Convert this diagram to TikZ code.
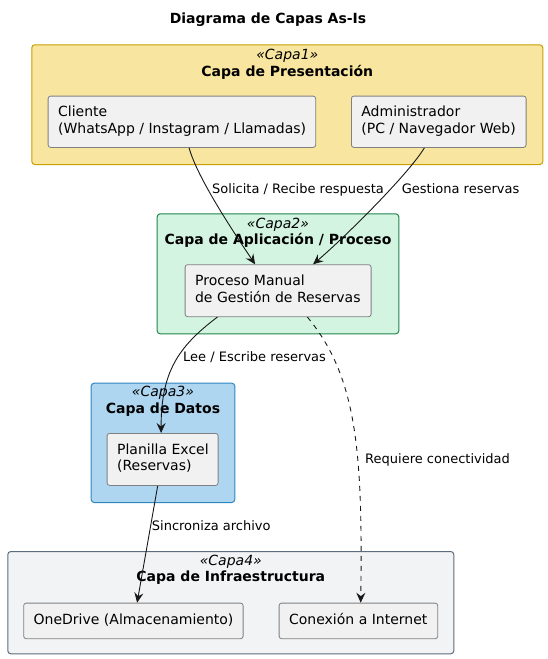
\documentclass[tikz,border=0pt]{standalone}
\usepackage{fontspec}
\setmainfont{DejaVu Sans}
\usetikzlibrary{arrows.meta}
\definecolor{cOneFill}{RGB}{248,229,160}
\definecolor{cOneDraw}{RGB}{200,160,0}
\definecolor{cTwoFill}{RGB}{212,244,226}
\definecolor{cTwoDraw}{RGB}{30,132,73}
\definecolor{cThreeFill}{RGB}{174,214,241}
\definecolor{cThreeDraw}{RGB}{46,134,193}
\definecolor{cFourFill}{RGB}{242,243,244}
\definecolor{cFourDraw}{RGB}{93,109,126}
\definecolor{boxFill}{RGB}{241,241,241}
\definecolor{boxDraw}{RGB}{128,128,128}
\definecolor{lineC}{RGB}{24,24,24}
\newcommand{\bxt}[2]{\makebox[#1][l]{\begin{tabular}{@{}l@{}}#2\end{tabular}}}
\tikzset{
  compbox/.style={draw=boxDraw, fill=boxFill, rounded corners=2.5pt, line width=0.8pt,
    inner xsep=10pt, inner ysep=0pt, anchor=north west,
    font=\fontsize{14}{16.5}\selectfont},
  layerframe/.style={rounded corners=3pt, line width=1pt, anchor=north west, inner sep=0pt},
  elabel/.style={font=\fontsize{13}{15}\selectfont, anchor=base west, inner sep=0pt},
  stereo/.style={font=\fontsize{14}{16}\selectfont\itshape, anchor=base, inner sep=0pt},
  ftitle/.style={font=\fontsize{14}{16}\selectfont\bfseries, anchor=base, inner sep=0pt},
  conn/.style={draw=lineC, line width=0.9pt, -{Stealth[length=10pt,width=9pt,inset=3.5pt]}},
  dconn/.style={conn, dash pattern=on 5pt off 5pt}
}
\begin{document}
\begin{tikzpicture}[x=1pt,y=-1pt]
\useasboundingbox (0,0) rectangle (547,659);
% title
\node[ftitle] (title) at (268,23) {Diagrama de Capas As-Is};
% frames
\node[layerframe, draw=cOneDraw, fill=cOneFill, minimum width=511pt, minimum height=119.7pt] (f1) at (31.3,44.3) {};
\node[layerframe, draw=cTwoDraw, fill=cTwoFill, minimum width=241.6pt, minimum height=120pt] (f2) at (156.7,213.3) {};
\node[layerframe, draw=cThreeDraw, fill=cThreeFill, minimum width=143.6pt, minimum height=119.3pt] (f3) at (90.7,382.7) {};
\node[layerframe, draw=cFourDraw, fill=cFourFill, minimum width=446pt, minimum height=102.3pt] (f4) at (7.3,551) {};
% frame labels
\node[stereo] (s1) at ([yshift=-14.7pt]f1.north) {«Capa1»};
\node[ftitle] (t1) at ([yshift=-31.7pt]f1.north) {Capa de Presentación};
\node[stereo] (s2) at ([yshift=-14.7pt]f2.north) {«Capa2»};
\node[ftitle] (t2) at ([yshift=-31.2pt]f2.north) {Capa de Aplicación / Proceso};
\node[stereo] (s3) at ([yshift=-14.2pt]f3.north) {«Capa3»};
\node[ftitle] (t3) at ([yshift=-30.7pt]f3.north) {Capa de Datos};
\node[stereo] (s4) at ([yshift=-14pt]f4.north) {«Capa4»};
\node[ftitle] (t4) at ([yshift=-30.7pt]f4.north) {Capa de Infraestructura};
% boxes
\node[compbox, minimum height=51.3pt] (cli) at (47.7,95.7) {\bxt{247.6pt}{Cliente\\(WhatsApp / Instagram / Llamadas)}};
\node[compbox, minimum height=51.3pt] (adm) at (351,95.7) {\bxt{154.7pt}{Administrador\\(PC / Navegador Web)}};
\node[compbox, minimum height=52pt] (proc) at (184.7,264.3) {\bxt{166pt}{Proceso Manual\\de Gestión de Reservas}};
\node[compbox, minimum height=52pt] (excel) at (106.7,433) {\bxt{91pt}{Planilla Excel\\(Reservas)}};
\node[compbox, minimum height=35.6pt] (drive) at (23.3,602.7) {\bxt{199.4pt}{OneDrive (Almacenamiento)}};
\node[compbox, minimum height=35.6pt] (net) at (278.7,602.7) {\bxt{138.6pt}{Conexión a Internet}};
% connectors
\draw[conn] ([xshift=7.2pt]cli.south) .. controls +(8,30) and +(-20,-30) .. ([xshift=-23pt]proc.north);
\draw[conn] ([xshift=-14.35pt]adm.south) .. controls +(-15,25) and +(35,-30) .. ([xshift=35pt]proc.north);
\draw[conn] ([xshift=-60.7pt]proc.south) .. controls +(-40,30) and +(0,-60) .. ([xshift=-1.5pt]excel.north);
\draw[conn] ([xshift=-4.9pt]excel.south) -- ([xshift=3.7pt]drive.north);
\draw[dconn] ([xshift=29.3pt]proc.south) .. controls +(50,60) and +(2,-150) .. ([xshift=2.3pt]net.north);
% connector labels
\node[elabel] (l1) at (212,193) {Solicita / Recibe respuesta};
\node[elabel] (l2) at (401.7,193) {Gestiona reservas};
\node[elabel] (l3) at (183,361.7) {Lee / Escribe reservas};
\node[elabel] (l4) at (151.7,530.7) {Sincroniza archivo};
\node[elabel] (l5) at (365,463) {Requiere conectividad};
\end{tikzpicture}
\end{document}
